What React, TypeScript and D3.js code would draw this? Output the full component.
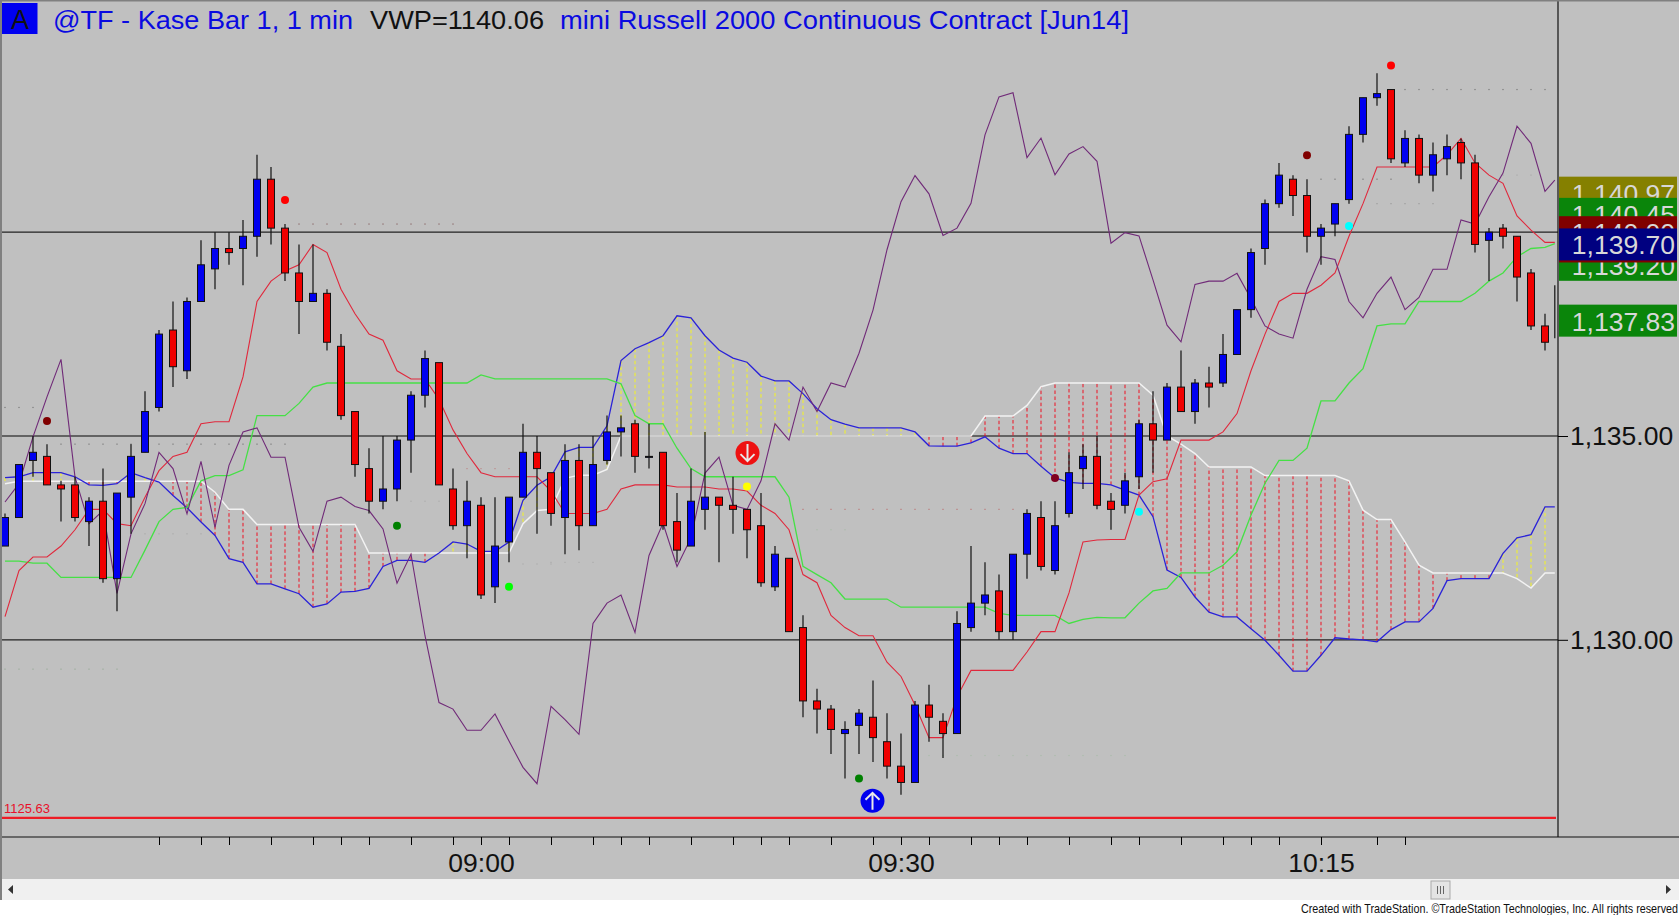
import { useEffect, useRef } from 'react';
import * as d3 from 'd3';

const WIDTH = 1679;
const HEIGHT = 915;

// candles, one value per bar
const opens = [
  1132.3, 1133.0, 1134.4, 1134.5, 1133.8, 1133.8, 1132.9, 1133.4, 1131.5, 1133.5,
  1134.6, 1135.7, 1137.6, 1136.6, 1138.3, 1139.1, 1139.6, 1139.6, 1139.9, 1141.3,
  1140.1, 1139.0, 1138.3, 1138.5, 1137.2, 1135.6, 1134.2, 1133.4, 1133.7, 1134.9,
  1136.0, 1136.8, 1133.7, 1132.8, 1133.3, 1131.3, 1132.4, 1133.5, 1134.6, 1134.1,
  1133.0, 1134.4, 1132.8, 1134.4, 1135.1, 1135.3, 1134.5, 1134.6, 1132.9, 1132.3,
  1133.2, 1133.5, 1133.3, 1133.2, 1132.8, 1131.3, 1132.0, 1130.3, 1128.5, 1128.3,
  1127.7, 1127.9, 1128.1, 1127.5, 1126.9, 1126.5, 1128.4, 1128.0, 1127.7, 1130.3,
  1130.9, 1131.2, 1130.2, 1132.1, 1133.0, 1131.7, 1133.1, 1134.2, 1134.5, 1133.4,
  1133.3, 1134.0, 1135.3, 1134.9, 1136.2, 1135.6, 1136.3, 1136.3, 1137.0, 1138.1,
  1139.6, 1140.7, 1141.3, 1140.9, 1139.9, 1140.2, 1140.8, 1142.4, 1143.3, 1143.5,
  1141.7, 1142.3, 1141.4, 1141.8, 1142.2, 1141.7, 1139.8, 1140.1, 1139.9, 1139.0,
  1137.7,
];
const highs = [
  1133.1, 1134.3, 1135.0, 1134.8, 1133.9, 1134.0, 1133.5, 1134.2, 1133.6, 1134.8,
  1136.1, 1137.6, 1138.3, 1138.4, 1139.8, 1140.0, 1140.0, 1140.3, 1141.9, 1141.6,
  1140.2, 1139.7, 1139.7, 1138.6, 1137.5, 1135.6, 1134.7, 1135.0, 1135.0, 1136.1,
  1137.1, 1136.8, 1134.2, 1133.9, 1133.5, 1133.5, 1133.5, 1135.3, 1135.0, 1134.1,
  1134.8, 1134.8, 1135.0, 1135.5, 1135.5, 1135.4, 1135.3, 1134.6, 1133.6, 1134.2,
  1135.1, 1133.5, 1134.0, 1133.2, 1133.6, 1132.3, 1132.0, 1130.6, 1128.8, 1128.4,
  1128.0, 1128.3, 1129.0, 1128.2, 1127.7, 1128.5, 1128.9, 1128.2, 1130.7, 1132.3,
  1131.9, 1131.6, 1132.1, 1133.2, 1133.4, 1133.4, 1134.6, 1134.8, 1135.0, 1133.6,
  1134.1, 1135.4, 1136.1, 1136.3, 1137.1, 1136.4, 1136.7, 1137.5, 1138.1, 1139.6,
  1140.8, 1141.7, 1141.4, 1141.3, 1140.2, 1140.7, 1142.6, 1143.3, 1143.9, 1143.5,
  1142.5, 1142.4, 1142.2, 1142.4, 1142.3, 1141.9, 1140.1, 1140.2, 1139.9, 1139.1,
  1138.0,
];
const lows = [
  1132.3, 1133.0, 1134.0, 1133.8, 1132.9, 1132.9, 1132.3, 1131.4, 1130.7, 1132.6,
  1134.6, 1135.6, 1136.2, 1136.4, 1138.3, 1138.6, 1139.2, 1138.7, 1139.4, 1139.7,
  1138.8, 1137.5, 1138.3, 1137.1, 1135.4, 1134.0, 1133.1, 1133.2, 1133.4, 1134.1,
  1135.7, 1133.8, 1132.7, 1132.0, 1131.0, 1130.9, 1131.9, 1133.5, 1132.6, 1132.8,
  1132.1, 1132.2, 1132.8, 1134.3, 1134.5, 1134.1, 1134.2, 1132.7, 1131.9, 1132.3,
  1132.7, 1131.9, 1132.6, 1132.0, 1131.3, 1131.2, 1130.2, 1128.1, 1127.7, 1127.2,
  1126.6, 1127.2, 1127.0, 1126.6, 1126.2, 1126.5, 1127.5, 1127.1, 1127.7, 1130.2,
  1130.6, 1130.0, 1130.0, 1131.5, 1131.7, 1131.6, 1133.0, 1133.7, 1133.2, 1132.7,
  1133.1, 1133.7, 1134.1, 1134.9, 1135.6, 1135.3, 1135.7, 1136.2, 1137.0, 1137.9,
  1139.2, 1140.6, 1140.4, 1139.5, 1139.2, 1139.9, 1140.7, 1142.2, 1143.1, 1141.7,
  1141.6, 1141.2, 1141.0, 1141.4, 1141.3, 1139.5, 1138.8, 1139.6, 1138.3, 1137.6,
  1137.1,
];
const closes = [
  1133.0, 1134.3, 1134.6, 1133.8, 1133.7, 1133.0, 1133.4, 1131.5, 1133.6, 1134.5,
  1135.6, 1137.5, 1136.7, 1138.3, 1139.2, 1139.6, 1139.5, 1139.9, 1141.3, 1140.1,
  1139.0, 1138.3, 1138.5, 1137.3, 1135.5, 1134.3, 1133.4, 1133.7, 1134.9, 1136.0,
  1136.9, 1133.8, 1132.8, 1133.4, 1131.1, 1132.3, 1133.5, 1134.6, 1134.2, 1133.1,
  1134.4, 1132.8, 1134.3, 1135.1, 1135.2, 1134.5, 1134.5, 1132.8, 1132.2, 1133.4,
  1133.5, 1133.3, 1133.2, 1132.7, 1131.4, 1132.1, 1130.2, 1128.5, 1128.3, 1127.8,
  1127.8, 1128.2, 1127.6, 1126.9, 1126.5, 1128.4, 1128.1, 1127.7, 1130.4, 1130.9,
  1131.1, 1130.2, 1132.1, 1133.1, 1131.8, 1132.8, 1134.1, 1134.5, 1133.3, 1133.2,
  1133.9, 1135.3, 1134.9, 1136.2, 1135.6, 1136.3, 1136.2, 1137.0, 1138.1, 1139.5,
  1140.7, 1141.4, 1140.9, 1139.9, 1140.1, 1140.7, 1142.4, 1143.3, 1143.4, 1141.8,
  1142.3, 1141.4, 1141.9, 1142.1, 1141.7, 1139.7, 1140.0, 1139.9, 1138.9, 1137.7,
  1137.3,
];

// the unfinished bar at the right edge, only its wick shows
const lastBarPos = 110.7;
const lastWick = [1138.7, 1137.4];

// indicator lines: one value per bar plus one for the unfinished bar
const redLine = [
  1130.57, 1131.7, 1132.03, 1132.03, 1132.3, 1132.7, 1133.2, 1133.2, 1132.85, 1132.8,
  1133.5, 1134.15, 1134.5, 1134.6, 1135.3, 1135.35, 1135.35, 1136.45, 1138.3, 1138.8,
  1139.05, 1139.2, 1139.7, 1139.5, 1138.6, 1138.0, 1137.5, 1137.35, 1136.6, 1136.4,
  1136.4, 1135.9, 1135.15, 1134.57, 1134.1, 1134.0, 1134.0, 1134.0, 1134.0, 1133.65,
  1133.1, 1133.1, 1133.1, 1133.2, 1133.7, 1133.8, 1133.8, 1133.8, 1133.75, 1133.75,
  1133.75, 1133.7, 1133.7, 1133.65, 1133.3, 1133.1, 1132.7, 1131.6, 1131.4, 1130.6,
  1130.3, 1130.1, 1130.1, 1129.45, 1129.1, 1128.4, 1127.6, 1127.6, 1128.6, 1129.25,
  1129.25, 1129.25, 1129.25, 1129.7, 1130.2, 1130.2, 1131.15, 1132.4, 1132.45, 1132.46,
  1132.46, 1133.55, 1133.88, 1133.95, 1134.9, 1134.9, 1134.9, 1135.1, 1135.55, 1136.6,
  1137.5, 1138.3, 1138.5, 1138.5, 1138.7, 1139.0, 1139.9, 1140.7, 1141.6, 1141.6,
  1141.6, 1141.6, 1141.6, 1141.9, 1142.3, 1141.7, 1141.4, 1141.2, 1140.4, 1140.05,
  1139.75, 1139.75,
];
const greenLine = [
  1131.93, 1131.93, 1131.88, 1131.88, 1131.53, 1131.53, 1131.53, 1131.53, 1131.53, 1131.53,
  1132.2, 1132.9, 1133.2, 1133.25, 1133.9, 1134.03, 1134.03, 1134.17, 1135.5, 1135.5,
  1135.5, 1135.8, 1136.2, 1136.3, 1136.3, 1136.3, 1136.3, 1136.3, 1136.3, 1136.3,
  1136.3, 1136.3, 1136.3, 1136.3, 1136.5, 1136.4, 1136.4, 1136.4, 1136.4, 1136.4,
  1136.4, 1136.4, 1136.4, 1136.4, 1136.28, 1135.5, 1135.3, 1135.3, 1134.7, 1134.2,
  1134.0, 1134.0, 1134.0, 1134.0, 1134.0, 1134.0, 1133.5, 1131.8, 1131.6, 1131.4,
  1131.0, 1131.0, 1131.0, 1131.0, 1130.8, 1130.8, 1130.8, 1130.8, 1130.8, 1130.8,
  1130.8, 1130.65, 1130.6, 1130.6, 1130.6, 1130.6, 1130.4, 1130.5, 1130.55, 1130.54,
  1130.54, 1130.9, 1131.2, 1131.26, 1131.64, 1131.64, 1131.64, 1131.83, 1132.16, 1133.06,
  1133.84, 1134.4, 1134.4, 1134.7, 1135.86, 1135.86, 1136.3, 1136.65, 1137.7, 1137.75,
  1137.75, 1138.3, 1138.3, 1138.3, 1138.3, 1138.5, 1138.8, 1139.0, 1139.4, 1139.6,
  1139.63, 1139.72,
];
const purpleLine = [
  1133.38, 1133.83, 1134.98, 1135.96, 1136.88, 1133.99, 1132.85, 1133.17, 1131.14, 1132.6,
  1133.34, 1134.6, 1134.2, 1133.09, 1134.38, 1132.76, 1134.28, 1135.1, 1135.2, 1134.48,
  1134.48, 1132.76, 1132.17, 1133.4, 1133.5, 1133.27, 1133.17, 1132.72, 1131.39, 1132.1,
  1130.1, 1128.46, 1128.3, 1127.78, 1127.78, 1128.18, 1127.52, 1126.87, 1126.47, 1128.37,
  1128.04, 1127.68, 1130.4, 1130.9, 1131.1, 1130.18, 1132.07, 1132.86, 1131.8, 1132.5,
  1134.09, 1134.48, 1133.3, 1133.2, 1133.9, 1135.3, 1134.9, 1136.2, 1135.6, 1136.3,
  1136.2, 1137.03, 1138.09, 1139.57, 1140.75, 1141.39, 1140.94, 1139.92, 1140.1, 1140.71,
  1142.39, 1143.32, 1143.42, 1141.83, 1142.31, 1141.41, 1141.92, 1142.1, 1141.74, 1139.73,
  1139.99, 1139.91, 1138.83, 1137.72, 1137.31, 1138.72, 1138.8, 1138.8, 1138.99, 1138.37,
  1137.7, 1137.5, 1137.4, 1138.6, 1139.4, 1139.33, 1138.3, 1137.9, 1138.5, 1138.9,
  1138.1, 1138.4, 1139.09, 1139.09, 1140.3, 1140.2, 1140.87, 1141.45, 1142.6, 1142.18,
  1141.0, 1141.28,
];
const blueLine = [
  1133.98, 1134.0, 1134.1, 1134.1, 1134.1, 1134.0, 1133.8, 1133.79, 1133.83, 1134.1,
  1133.98, 1133.87, 1133.54, 1133.24, 1132.89, 1132.56, 1131.99, 1131.9, 1131.37, 1131.37,
  1131.25, 1131.13, 1130.8, 1130.88, 1131.17, 1131.19, 1131.26, 1131.8, 1131.95, 1131.95,
  1131.9, 1132.13, 1132.4, 1132.35, 1132.17, 1132.17, 1132.4, 1133.42, 1133.79, 1134.0,
  1134.61, 1134.72, 1134.72, 1135.25, 1136.85, 1137.14, 1137.29, 1137.46, 1137.95, 1137.9,
  1137.46, 1137.11, 1136.91, 1136.81, 1136.47, 1136.35, 1136.35, 1136.04, 1135.67, 1135.4,
  1135.29, 1135.2, 1135.2, 1135.2, 1135.2, 1135.1, 1134.76, 1134.75, 1134.75, 1134.83,
  1134.98, 1134.7, 1134.57, 1134.57, 1134.26, 1133.97, 1133.86, 1133.84, 1133.84, 1133.8,
  1133.67, 1133.55, 1133.02, 1131.71, 1131.53, 1131.05, 1130.68, 1130.56, 1130.56, 1130.27,
  1129.99, 1129.62, 1129.23, 1129.23, 1129.62, 1130.05, 1130.02, 1130.0, 1129.95, 1130.25,
  1130.44, 1130.44, 1130.77, 1131.45, 1131.5, 1131.5, 1131.5, 1132.12, 1132.5, 1132.58,
  1133.26, 1133.26,
];
const whiteLine = [
  1133.83, 1133.89, 1133.89, 1133.89, 1133.89, 1133.89, 1133.89, 1133.89, 1133.89, 1133.89,
  1133.89, 1133.89, 1133.89, 1133.89, 1133.89, 1133.62, 1133.2, 1133.2, 1132.83, 1132.83,
  1132.83, 1132.83, 1132.83, 1132.83, 1132.83, 1132.83, 1132.13, 1132.13, 1132.13, 1132.13,
  1132.13, 1132.13, 1132.13, 1132.13, 1132.13, 1132.13, 1132.13, 1132.85, 1133.17, 1133.2,
  1133.96, 1134.04, 1134.04, 1134.18, 1135.0, 1135.0, 1135.0, 1135.0, 1135.0, 1135.0,
  1135.0, 1135.0, 1135.0, 1135.0, 1135.0, 1135.0, 1135.0, 1135.0, 1135.0, 1135.0,
  1135.0, 1135.0, 1135.0, 1135.0, 1135.0, 1135.0, 1135.0, 1135.0, 1135.0, 1135.0,
  1135.49, 1135.49, 1135.49, 1135.75, 1136.21, 1136.3, 1136.3, 1136.3, 1136.3, 1136.3,
  1136.3, 1136.3, 1136.0, 1135.0, 1134.8, 1134.57, 1134.24, 1134.24, 1134.24, 1134.24,
  1134.03, 1134.03, 1134.03, 1134.03, 1134.03, 1134.03, 1133.9, 1133.18, 1132.95, 1132.95,
  1132.4, 1131.83, 1131.64, 1131.64, 1131.64, 1131.64, 1131.64, 1131.64, 1131.5, 1131.27,
  1131.64, 1131.64,
];

// faint dotted levels: [first bar, last bar, price, colour]
const dottedLevels: [number, number, number, string][] = [
  [0, 2, 1135.7, '#777'],
  [4, 20, 1134.8, '#777'],
  [0, 8, 1129.28, '#9a9'],
  [10, 15, 1132.6, '#aaa'],
  [21, 32, 1140.2, '#866'],
  [29, 33, 1133.4, '#aaa'],
  [33, 36, 1134.2, '#b88'],
  [37, 39, 1131.86, '#aaa'],
  [39, 42, 1131.9, '#aaa'],
  [57, 72, 1133.2, '#b77'],
  [58, 60, 1132.7, '#aba'],
  [66, 80, 1127.16, '#aba'],
  [94, 99, 1141.3, '#777'],
  [98, 102, 1140.7, '#999'],
  [100, 110, 1143.5, '#777'],
  [107, 109, 1141.4, '#aaa'],
];

// signal dots: [bar, price, colour]
const signalDots: [number, number, string][] = [
  [3, 1135.37, '#800000'],
  [20, 1140.79, '#ff0000'],
  [28, 1132.8, '#008000'],
  [36, 1131.3, '#00ff00'],
  [53, 1133.76, '#ffff00'],
  [61, 1126.6, '#008000'],
  [75, 1133.97, '#800020'],
  [81, 1133.14, '#00ffff'],
  [93, 1141.89, '#800000'],
  [96, 1140.15, '#00ffff'],
  [99, 1144.09, '#ff0000'],
];

// arrows: [bar, price, colour, direction]
const arrowMarks: [number, number, string, number][] = [
  [53, 1134.58, '#ee1111', 1],
  [62, 1126.05, '#0000ee', -1],
];

const gridLevels = [1140, 1135, 1130];
const axisPrices = [1135, 1130];
const stopLevel = 1125.63;

// price tags on the right, drawn in this order
const tagPrices = [1140.97, 1140.45, 1140.0, 1139.2, 1137.83, 1139.65, 1139.7];
const tagColors = ['#858000', '#0a850a', '#800000', '#0a850a', '#0a850a', '#800000', '#000080'];
const tagShown = [true, true, true, true, true, false, true];

const timeTicks = [
  11, 14, 16, 19, 22, 24, 26, 29, 32, 34, 36, 39, 42, 44, 46, 49, 52, 54, 56, 59, 62, 64, 66, 69,
  71, 73, 76, 79, 81, 84, 87, 89, 91, 94, 98, 100,
];
const timeLabels = new Map([[34, '09:00'], [64, '09:30'], [94, '10:15']]);

const FONT = '"Liberation Sans", Arial, sans-serif';

export default function App() {
  const ref = useRef<SVGSVGElement>(null);

  useEffect(() => {
    if (!ref.current) return;
    const svg = d3.select(ref.current);
    svg.selectAll('*').remove();

    const plotRight = 1558;
    const axisY = 837;

    const x = d3.scaleLinear().domain([0, 110]).range([5, 1545]);
    const y = d3.scaleLinear().domain([1130, 1135]).range([639.8, 436]);
    const barPos = (i: number) => (i > 110 ? lastBarPos : i);

    svg.append('rect').attr('width', WIDTH).attr('height', HEIGHT).attr('fill', '#fff');
    svg.append('rect').attr('width', WIDTH).attr('height', 900).attr('fill', '#c0c0c0');

    // grid
    gridLevels.forEach((lvl) => {
      svg.append('line')
        .attr('x1', 2).attr('x2', plotRight)
        .attr('y1', y(lvl)).attr('y2', y(lvl))
        .attr('stroke', lvl === 1135 ? '#444' : '#222')
        .attr('stroke-width', lvl === 1135 ? 1.6 : 1.2);
    });

    // dotted levels
    dottedLevels.forEach(([from, to, price, color]) => {
      svg.append('g').selectAll('rect')
        .data(d3.range(from, to + 1))
        .join('rect')
        .attr('x', (d) => x(d) - 0.6)
        .attr('y', y(price) - 0.6)
        .attr('width', 1.2)
        .attr('height', 1.2)
        .attr('fill', color);
    });

    // cloud hatching
    svg.append('g').selectAll('line')
      .data(d3.range(0, 111))
      .join('line')
      .attr('x1', (d) => x(d)).attr('x2', (d) => x(d))
      .attr('y1', (d) => y(blueLine[d]))
      .attr('y2', (d) => y(whiteLine[d]))
      .attr('stroke', (d) => (blueLine[d] > whiteLine[d] ? '#f5f520' : '#ee1122'))
      .attr('stroke-width', 1)
      .attr('stroke-dasharray', '3.5,2.5');

    const lineGen = d3.line<number>()
      .x((_, i) => x(barPos(i)))
      .y((d) => y(d));

    const drawLine = (values: number[], color: string, width: number) => {
      svg.append('path')
        .attr('d', lineGen(values))
        .attr('fill', 'none')
        .attr('stroke', color)
        .attr('stroke-width', width);
    };

    drawLine(whiteLine, '#f2f2f2', 1.5);
    drawLine(blueLine, '#2a22d8', 1.3);
    drawLine(greenLine, '#45e045', 1.3);
    drawLine(redLine, '#e0283c', 1.1);
    drawLine(purpleLine, '#702a78', 1.1);

    // stop level
    svg.append('line')
      .attr('x1', 2).attr('x2', 1556)
      .attr('y1', y(stopLevel)).attr('y2', y(stopLevel))
      .attr('stroke', '#ee1c25').attr('stroke-width', 2.4);
    svg.append('text')
      .attr('x', 4).attr('y', y(stopLevel) - 5)
      .attr('fill', '#e8102a')
      .attr('font-size', 13)
      .attr('font-family', FONT)
      .text(stopLevel.toFixed(2));

    // candles
    const bars = d3.range(opens.length);
    svg.append('g').selectAll('line')
      .data(bars)
      .join('line')
      .attr('x1', (d) => x(d)).attr('x2', (d) => x(d))
      .attr('y1', (d) => y(highs[d])).attr('y2', (d) => y(lows[d]))
      .attr('stroke', '#111')
      .attr('stroke-width', 1.2);
    svg.append('g').selectAll('rect')
      .data(bars)
      .join('rect')
      .attr('x', (d) => x(d) - 3.5)
      .attr('y', (d) => y(Math.max(opens[d], closes[d])))
      .attr('width', 7)
      .attr('height', (d) => Math.max(1, Math.abs(y(opens[d]) - y(closes[d]))))
      .attr('fill', (d) => (closes[d] >= opens[d] ? '#0000f0' : '#f00000'))
      .attr('stroke', '#111')
      .attr('stroke-width', 1);
    svg.append('line')
      .attr('x1', x(lastBarPos)).attr('x2', x(lastBarPos))
      .attr('y1', y(lastWick[0])).attr('y2', y(lastWick[1]))
      .attr('stroke', '#111').attr('stroke-width', 1.2);

    // signal dots
    svg.append('g').selectAll('circle')
      .data(signalDots)
      .join('circle')
      .attr('cx', (d) => x(d[0]))
      .attr('cy', (d) => y(d[1]))
      .attr('r', 4)
      .attr('fill', (d) => d[2]);

    // arrows
    arrowMarks.forEach(([bar, price, color, dir]) => {
      const g = svg.append('g')
        .attr('transform', `translate(${x(bar) + (dir > 0 ? 0.5 : -0.5)},${y(price)}) scale(1,${dir})`);
      g.append('circle').attr('r', 12).attr('fill', color);
      g.append('path')
        .attr('d', 'M0,-9V8M-7,1L0,8L7,1')
        .attr('fill', 'none')
        .attr('stroke', '#e8e8e8')
        .attr('stroke-width', 2);
    });

    // axes
    svg.append('line')
      .attr('x1', plotRight).attr('x2', plotRight)
      .attr('y1', 0).attr('y2', axisY)
      .attr('stroke', '#111').attr('stroke-width', 1.2);
    svg.append('line')
      .attr('x1', 2).attr('x2', WIDTH)
      .attr('y1', axisY).attr('y2', axisY)
      .attr('stroke', '#111').attr('stroke-width', 1.2);

    const yAxis = d3.axisRight(y)
      .tickValues(axisPrices)
      .tickSize(10)
      .tickPadding(2)
      .tickFormat((d) => d3.format(',.2f')(d as number));
    const yG = svg.append('g').attr('transform', `translate(${plotRight},0)`).call(yAxis);
    yG.select('.domain').remove();
    yG.selectAll('text').attr('font-size', 26.5).attr('font-family', FONT).attr('fill', '#111');

    const xAxis = d3.axisBottom(x)
      .tickValues(timeTicks)
      .tickSize(8)
      .tickPadding(8)
      .tickFormat((d) => timeLabels.get(d as number) ?? '');
    const xG = svg.append('g').attr('transform', `translate(0,${axisY})`).call(xAxis);
    xG.select('.domain').remove();
    xG.selectAll('text').attr('font-size', 26.5).attr('font-family', FONT).attr('fill', '#111');

    // price tags
    tagPrices.forEach((price, i) => {
      svg.append('rect')
        .attr('x', plotRight + 1)
        .attr('y', y(price) - 16)
        .attr('width', WIDTH - plotRight - 3)
        .attr('height', 32)
        .attr('fill', tagColors[i]);
      if (tagShown[i]) {
        svg.append('text')
          .attr('x', WIDTH - 4)
          .attr('y', y(price) + 10)
          .attr('text-anchor', 'end')
          .attr('font-size', 26.5)
          .attr('font-family', FONT)
          .attr('fill', '#d8d8d8')
          .text(d3.format(',.2f')(price));
      }
    });

    // header
    svg.append('rect').attr('x', 2).attr('y', 3).attr('width', 35.5).attr('height', 31).attr('fill', '#0000f0');
    const header: [string, number, number, string][] = [
      ['@TF - Kase Bar 1, 1 min', 53, 300, '#0a0ae0'],
      ['VWP=1140.06', 370, 174, '#111'],
      ['mini Russell 2000 Continuous Contract [Jun14]', 560, 569, '#0a0ae0'],
    ];
    svg.append('text')
      .attr('x', 20).attr('y', 29)
      .attr('text-anchor', 'middle')
      .attr('font-size', 27)
      .attr('font-family', FONT)
      .attr('fill', '#111')
      .text('A');
    header.forEach(([label, left, len, color]) => {
      svg.append('text')
        .attr('x', left).attr('y', 29)
        .attr('font-size', 26.5)
        .attr('font-family', FONT)
        .attr('fill', color)
        .attr('textLength', len)
        .attr('lengthAdjust', 'spacingAndGlyphs')
        .text(label);
    });

    // window frame
    svg.append('rect').attr('width', WIDTH).attr('height', 1.5).attr('fill', '#808080');
    svg.append('rect').attr('width', 2).attr('height', 900).attr('fill', '#808080');

    // scrollbar
    svg.append('rect').attr('x', 2).attr('y', 879).attr('width', WIDTH - 2).attr('height', 21).attr('fill', '#f0f0f0');
    svg.append('path').attr('d', 'M8,889.5L13,885V894Z').attr('fill', '#333');
    svg.append('path').attr('d', 'M1671,889.5L1666,885V894Z').attr('fill', '#333');
    svg.append('rect')
      .attr('x', 1431).attr('y', 881).attr('width', 19).attr('height', 18)
      .attr('fill', '#e4e4e4').attr('stroke', '#aaa');
    [-3, 0, 3].forEach((dx) => {
      svg.append('line')
        .attr('x1', 1440.5 + dx).attr('x2', 1440.5 + dx)
        .attr('y1', 886).attr('y2', 894)
        .attr('stroke', '#666');
    });

    svg.append('text')
      .attr('x', 1301).attr('y', 913)
      .attr('font-size', 13)
      .attr('font-family', FONT)
      .attr('fill', '#111')
      .attr('textLength', 377)
      .attr('lengthAdjust', 'spacingAndGlyphs')
      .text('Created with TradeStation. ©TradeStation Technologies, Inc. All rights reserved');
  }, []);

  return (
    <svg
      ref={ref}
      width={WIDTH}
      height={HEIGHT}
      style={{ position: 'absolute', left: 0, top: 0, display: 'block' }}
    />
  );
}
